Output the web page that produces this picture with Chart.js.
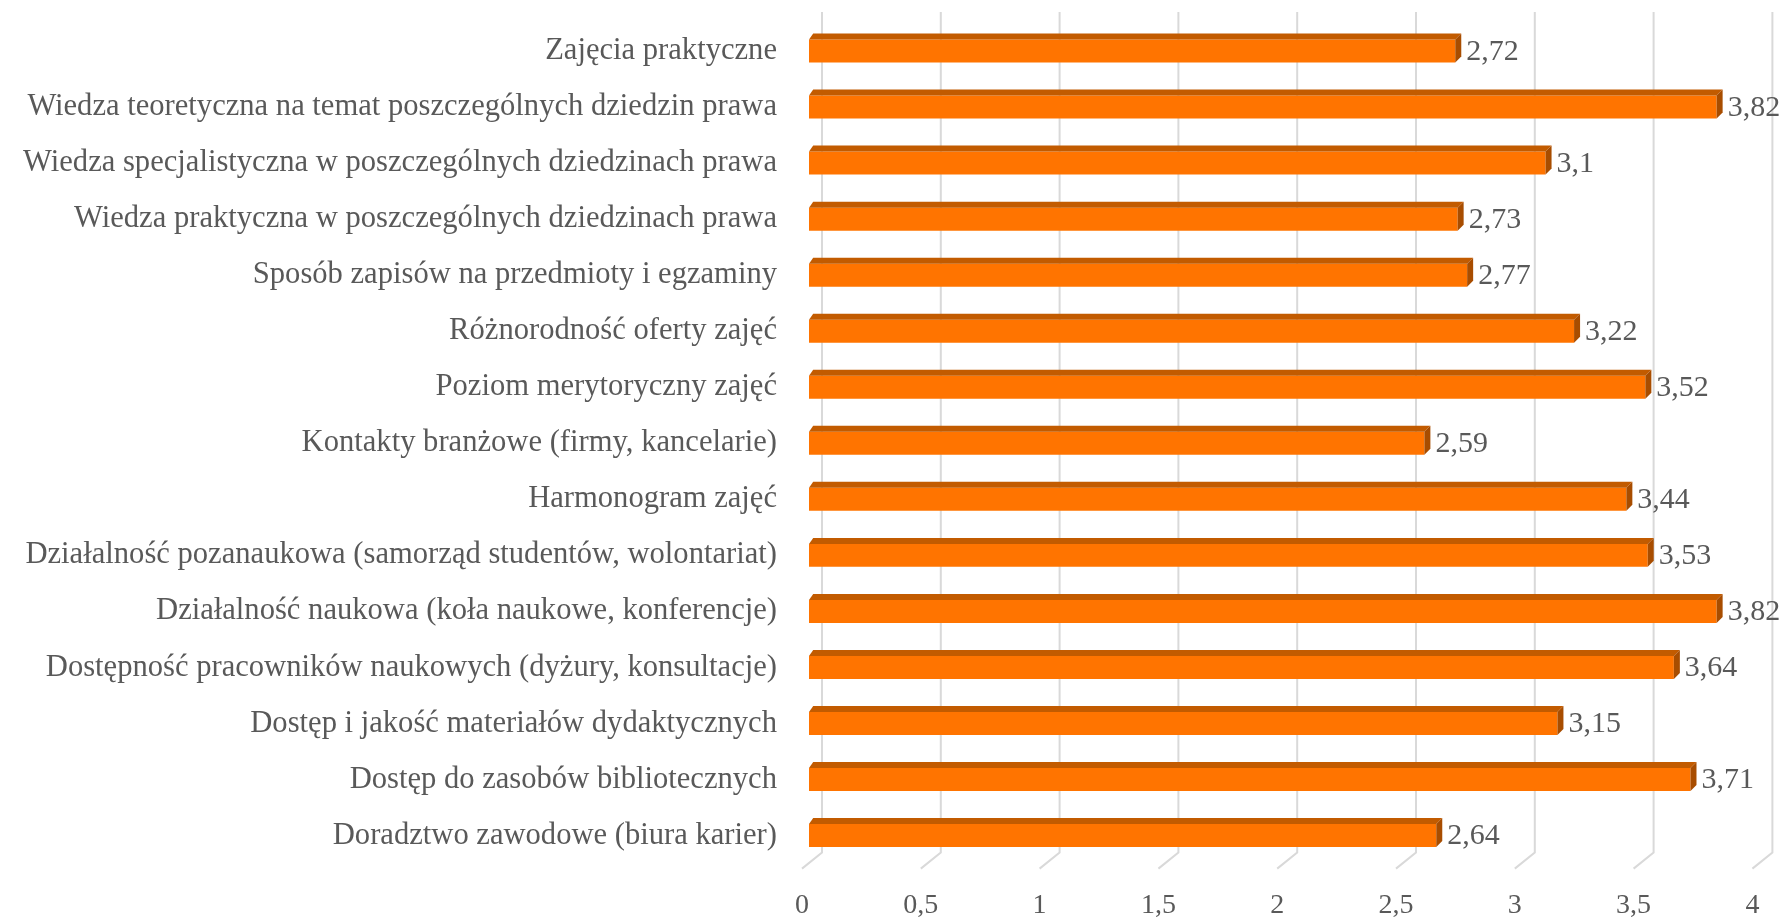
<!DOCTYPE html>
<html>
<head>
<meta charset="utf-8">
<script src="https://cdn.jsdelivr.net/npm/chart.js@4"></script>
<style>
html,body{margin:0;padding:0;background:#fff;}
#c{display:block;}
</style>
</head>
<body>
<canvas id="c" width="1785" height="917"></canvas>
<script>
const categories = [
  "Zajęcia praktyczne",
  "Wiedza teoretyczna na temat poszczególnych dziedzin prawa",
  "Wiedza specjalistyczna w poszczególnych dziedzinach prawa",
  "Wiedza praktyczna w poszczególnych dziedzinach prawa",
  "Sposób zapisów na przedmioty i egzaminy",
  "Różnorodność oferty zajęć",
  "Poziom merytoryczny zajęć",
  "Kontakty branżowe (firmy, kancelarie)",
  "Harmonogram zajęć",
  "Działalność pozanaukowa (samorząd studentów, wolontariat)",
  "Działalność naukowa (koła naukowe, konferencje)",
  "Dostępność pracowników naukowych (dyżury, konsultacje)",
  "Dostęp i jakość materiałów dydaktycznych",
  "Dostęp do zasobów bibliotecznych",
  "Doradztwo zawodowe (biura karier)"
];
const values = [2.72, 3.82, 3.1, 2.73, 2.77, 3.22, 3.52, 2.59, 3.44, 3.53, 3.82, 3.64, 3.15, 3.71, 2.64];
const axisMin = 0;
const axisMax = 4;
const axisStep = 0.5;

const FONT = "'Liberation Serif', 'DejaVu Serif', serif";
const TEXT = '#595959';
const fmt = v => String(+v.toFixed(2)).replace('.', ',');

const DEPTH = 6;
const BACK_DX = 13, FLOOR_DX = -20, FLOOR_DY = 16;

const gridPlugin = {
  id: 'grid3d',
  beforeDatasetsDraw(chart) {
    const ctx = chart.ctx;
    const xs = chart.scales.x;
    const area = chart.chartArea;
    ctx.save();
    ctx.strokeStyle = '#d9d9d9';
    ctx.lineWidth = 2;
    xs.ticks.forEach(t => {
      const px = xs.getPixelForValue(t.value) + BACK_DX;
      const yTop = 12;
      const yBot = area.bottom - 11;
      ctx.beginPath();
      ctx.moveTo(px, yTop);
      ctx.lineTo(px, yBot);
      ctx.lineTo(px + FLOOR_DX, yBot + FLOOR_DY);
      ctx.stroke();
    });
    ctx.restore();
  }
};

const barPlugin = {
  id: 'bar3d',
  afterDatasetsDraw(chart) {
    const ctx = chart.ctx;
    const meta = chart.getDatasetMeta(0);
    ctx.save();
    meta.data.forEach((el, i) => {
      const p = el.getProps(['x', 'y', 'base', 'height'], true);
      const top = p.y - p.height / 2, bot = p.y + p.height / 2;
      ctx.fillStyle = '#c25b00';
      ctx.beginPath();
      ctx.moveTo(p.base, top);
      ctx.lineTo(p.base + DEPTH * 0.7, top - DEPTH);
      ctx.lineTo(p.x + DEPTH, top - DEPTH);
      ctx.lineTo(p.x, top);
      ctx.closePath();
      ctx.fill();
      ctx.fillStyle = '#a84d00';
      ctx.beginPath();
      ctx.moveTo(p.x, top);
      ctx.lineTo(p.x + DEPTH, top - DEPTH);
      ctx.lineTo(p.x + DEPTH, bot - DEPTH);
      ctx.lineTo(p.x, bot);
      ctx.closePath();
      ctx.fill();
      ctx.fillStyle = TEXT;
      ctx.font = "30px " + FONT;
      ctx.textAlign = 'left';
      ctx.textBaseline = 'middle';
      ctx.fillText(fmt(values[i]), p.x + 11, p.y + 1);
    });
    ctx.restore();
  }
};

new Chart(document.getElementById('c'), {
  type: 'bar',
  data: {
    labels: categories,
    datasets: [{
      data: values,
      backgroundColor: '#ff7400',
      borderWidth: 0,
      barPercentage: 0.41,
      categoryPercentage: 1
    }]
  },
  options: {
    indexAxis: 'y',
    responsive: false,
    devicePixelRatio: 1,
    animation: false,
    layout: { padding: { top: 23, right: 25.6, bottom: 0, left: 0 } },
    plugins: { legend: { display: false }, tooltip: { enabled: false } },
    scales: {
      y: {
        grid: { display: false, drawTicks: false },
        border: { display: false },
        ticks: { color: TEXT, font: { family: FONT, size: 30.6 }, padding: 32, autoSkip: false },
        afterFit: s => { s.width = 809; s.paddingTop = 0; s.paddingBottom = 0; }
      },
      x: {
        min: axisMin,
        max: axisMax,
        grid: { display: false, drawTicks: false },
        border: { display: false },
        ticks: {
          stepSize: axisStep,
          color: TEXT,
          font: { family: FONT, size: 28 },
          padding: 25,
          labelOffset: -7,
          maxRotation: 0,
          callback: v => fmt(v)
        },
        afterFit: s => { s.height = 53.4; s.paddingLeft = 0; s.paddingRight = 0; }
      }
    }
  },
  plugins: [gridPlugin, barPlugin]
});
</script>
</body>
</html>
